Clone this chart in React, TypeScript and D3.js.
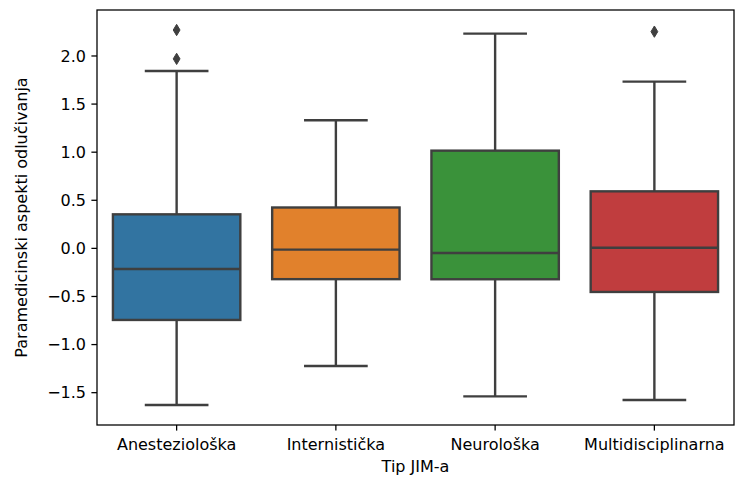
import React from "react";
import * as d3 from "d3";

const categories = ["Anesteziološka", "Internistička", "Neurološka", "Multidisciplinarna"];
const colors = ["#3274a1", "#e1812c", "#3a923a", "#c03d3e"];
const whiskerLow = [-1.628, -1.222, -1.538, -1.576];
const q1 = [-0.744, -0.32, -0.321, -0.453];
const median = [-0.214, -0.013, -0.048, 0.007];
const q3 = [0.354, 0.425, 1.016, 0.593];
const whiskerHigh = [1.844, 1.332, 2.232, 1.733];
const outliers = [[2.27, 1.97], [], [], [2.253]];
const yTicks = [-1.5, -1.0, -0.5, 0.0, 0.5, 1.0, 1.5, 2.0];
const yDomain = [-1.836, 2.478];

const W = 736, H = 481;
const M = { left: 97, right: 734, top: 10, bottom: 425 };
const FONT = "DejaVu Sans";
const LINE = "#3f3f3f";

export default function App() {
  const x = d3.scaleBand<string>().domain(categories).range([M.left, M.right]).paddingInner(0).paddingOuter(0);
  const y = d3.scaleLinear().domain(yDomain).range([M.bottom, M.top]);
  const bw = x.bandwidth() * 0.8;
  const cw = bw / 2;
  const lw = 2.4;
  const fmt = (v: number) => (v < 0 ? "\u2212" + Math.abs(v).toFixed(1) : v.toFixed(1));
  const dh = 11.3, dw = 6.8;
  const diamond = `M0,${-dh / 2} L${dw / 2},0 L0,${dh / 2} L${-dw / 2},0 Z`;

  return (
    <svg width={W} height={H} style={{ position: "absolute", left: 0, top: 0, background: "#fff" }}>
      <rect x={0} y={0} width={W} height={H} fill="#fff" />
      {categories.map((c, i) => {
        const cx = x(c)! + x.bandwidth() / 2;
        return (
          <g key={c}>
            <line x1={cx} x2={cx} y1={y(q3[i])} y2={y(whiskerHigh[i])} stroke={LINE} strokeWidth={lw} />
            <line x1={cx} x2={cx} y1={y(q1[i])} y2={y(whiskerLow[i])} stroke={LINE} strokeWidth={lw} />
            <line x1={cx - cw / 2} x2={cx + cw / 2} y1={y(whiskerHigh[i])} y2={y(whiskerHigh[i])} stroke={LINE} strokeWidth={lw} />
            <line x1={cx - cw / 2} x2={cx + cw / 2} y1={y(whiskerLow[i])} y2={y(whiskerLow[i])} stroke={LINE} strokeWidth={lw} />
            <rect x={cx - bw / 2} y={y(q3[i])} width={bw} height={y(q1[i]) - y(q3[i])} fill={colors[i]} stroke={LINE} strokeWidth={lw} />
            <line x1={cx - bw / 2} x2={cx + bw / 2} y1={y(median[i])} y2={y(median[i])} stroke={LINE} strokeWidth={lw} />
            {outliers[i].map((v, j) => (
              <path key={j} d={diamond} transform={`translate(${cx},${y(v)})`} fill={LINE} stroke={LINE} strokeWidth={1} />
            ))}
          </g>
        );
      })}
      <rect x={M.left} y={M.top} width={M.right - M.left} height={M.bottom - M.top} fill="none" stroke="#000" strokeWidth={1.28} />
      {yTicks.map((t) => (
        <g key={t}>
          <line x1={M.left - 5.6} x2={M.left} y1={y(t)} y2={y(t)} stroke="#000" strokeWidth={1.28} />
          <text x={M.left - 11} y={y(t)} dy="0.35em" textAnchor="end" fontFamily={FONT} fontSize={16} fill="#000">{fmt(t)}</text>
        </g>
      ))}
      {categories.map((c) => {
        const cx = x(c)! + x.bandwidth() / 2;
        return (
          <g key={c}>
            <line x1={cx} x2={cx} y1={M.bottom} y2={M.bottom + 5.6} stroke="#000" strokeWidth={1.28} />
            <text x={cx} y={M.bottom + 25} textAnchor="middle" fontFamily={FONT} fontSize={16} fill="#000">{c}</text>
          </g>
        );
      })}
      <text x={(M.left + M.right) / 2} y={M.bottom + 47} textAnchor="middle" fontFamily={FONT} fontSize={16} fill="#000">Tip JIM-a</text>
      <text transform={`translate(27,${(M.top + M.bottom) / 2}) rotate(-90)`} textAnchor="middle" fontFamily={FONT} fontSize={16} fill="#000">Paramedicinski aspekti odlučivanja</text>
    </svg>
  );
}
